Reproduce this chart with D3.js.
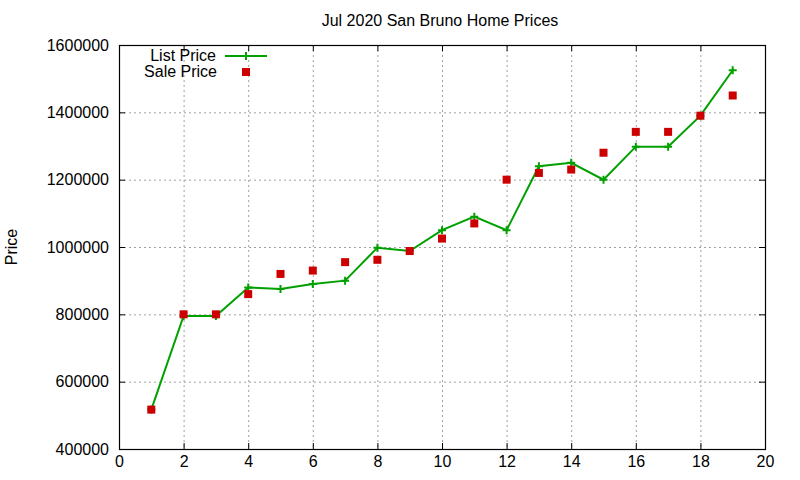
<!DOCTYPE html>
<html><head><meta charset="utf-8">
<script src="https://cdn.jsdelivr.net/npm/d3@7"></script>
<style>
body{margin:0;background:#fff;}
text{font-family:"Liberation Sans",Arial,sans-serif;font-size:16px;fill:#000;}
</style></head>
<body><svg id="c" width="800" height="480"></svg>
<script>
const xs = [1,2,3,4,5,6,7,8,9,10,11,12,13,14,15,16,17,18,19];
const listPrice = [517000,795000,795000,880000,875000,890000,900000,998000,988000,1050000,1090000,1050000,1240000,1250000,1200000,1298000,1298000,1390000,1525000];
const salePrice = [517000,800000,800000,860000,920000,930000,955000,962000,988000,1025000,1070000,1200000,1220000,1230000,1280000,1342000,1342000,1390000,1450000];
const xTicks = [0,2,4,6,8,10,12,14,16,18,20];
const yTicks = [400000,600000,800000,1000000,1200000,1400000,1600000];
const title = "Jul 2020 San Bruno Home Prices";
const yLabel = "Price";
const seriesNames = ["List Price","Sale Price"];

const svg = d3.select("#c");
const L=119, R=765, T=45, B=449;
const x = d3.scaleLinear().domain([0,20]).range([L,R]);
const y = d3.scaleLinear().domain([400000,1600000]).range([B,T]);
const green="#00a000", red="#cc0000";

// grid
const g = svg.append("g");
g.selectAll(".gx").data(xTicks.slice(1,-1)).enter().append("line")
  .attr("x1",d=>x(d)+0.5).attr("x2",d=>x(d)+0.5).attr("y1",T).attr("y2",B)
  .attr("stroke","#a0a0a0").attr("stroke-width",1).attr("stroke-dasharray","2,3");
g.selectAll(".gy").data(yTicks.slice(1,-1)).enter().append("line")
  .attr("y1",d=>y(d)+0.5).attr("y2",d=>y(d)+0.5).attr("x1",L).attr("x2",R)
  .attr("stroke","#a0a0a0").attr("stroke-width",1).attr("stroke-dasharray","2,3");

// axes
const ax = d3.axisBottom(x).tickValues(xTicks).tickSize(0).tickPadding(7).tickFormat(d3.format("d"));
svg.append("g").attr("transform",`translate(0,${B})`).call(ax).call(s=>{s.select(".domain").remove();s.selectAll("text").style("font-size","16px").attr("fill","#000");});
const ay = d3.axisLeft(y).tickValues(yTicks).tickSize(0).tickPadding(10).tickFormat(d3.format("d"));
svg.append("g").attr("transform",`translate(${L},0)`).call(ay).call(s=>{s.select(".domain").remove();s.selectAll("text").style("font-size","16px").attr("fill","#000");});

// ticks (mirrored, inward)
const tk = svg.append("g").attr("stroke","#000").attr("stroke-width",1);
xTicks.forEach(d=>{
  tk.append("line").attr("x1",x(d)+0.5).attr("x2",x(d)+0.5).attr("y1",B).attr("y2",B-6);
  tk.append("line").attr("x1",x(d)+0.5).attr("x2",x(d)+0.5).attr("y1",T).attr("y2",T+6);
});
yTicks.forEach(d=>{
  tk.append("line").attr("y1",y(d)+0.5).attr("y2",y(d)+0.5).attr("x1",L).attr("x2",L+6);
  tk.append("line").attr("y1",y(d)+0.5).attr("y2",y(d)+0.5).attr("x1",R).attr("x2",R-6);
});
svg.append("rect").attr("x",L+0.5).attr("y",T+0.5).attr("width",R-L).attr("height",B-T)
  .attr("fill","none").attr("stroke","#000").attr("stroke-width",1.2);

// title & label
svg.append("text").attr("x",440).attr("y",26).attr("text-anchor","middle").style("font-size","16px").text(title);
svg.append("text").attr("transform","translate(17,247) rotate(-90)").attr("text-anchor","middle").style("font-size","16px").text(yLabel);

// list line
const line = d3.line().x((d,i)=>x(xs[i])).y(d=>y(d));
svg.append("path").datum(listPrice).attr("d",line).attr("fill","none").attr("stroke",green).attr("stroke-width",2);
function plus(sel,cx,cy){
  sel.append("path").attr("d",`M${cx-4},${cy}H${cx+4}M${cx},${cy-4}V${cy+4}`).attr("stroke",green).attr("stroke-width",2).attr("fill","none");
}
const pg = svg.append("g");
listPrice.forEach((d,i)=>plus(pg,x(xs[i]),y(d)));
// sale squares
svg.append("g").selectAll("rect").data(salePrice).enter().append("rect")
  .attr("x",(d,i)=>x(xs[i])-4).attr("y",d=>y(d)-4).attr("width",8).attr("height",8).attr("fill",red);

// legend
svg.append("text").attr("x",216).attr("y",61).attr("text-anchor","end").style("font-size","16px").text(seriesNames[0]);
svg.append("line").attr("x1",225).attr("x2",267).attr("y1",56).attr("y2",56).attr("stroke",green).attr("stroke-width",2);
plus(svg,246,56);
svg.append("text").attr("x",217).attr("y",77).attr("text-anchor","end").style("font-size","16px").text(seriesNames[1]);
svg.append("rect").attr("x",242).attr("y",68).attr("width",8).attr("height",8).attr("fill",red);
</script></body></html>
